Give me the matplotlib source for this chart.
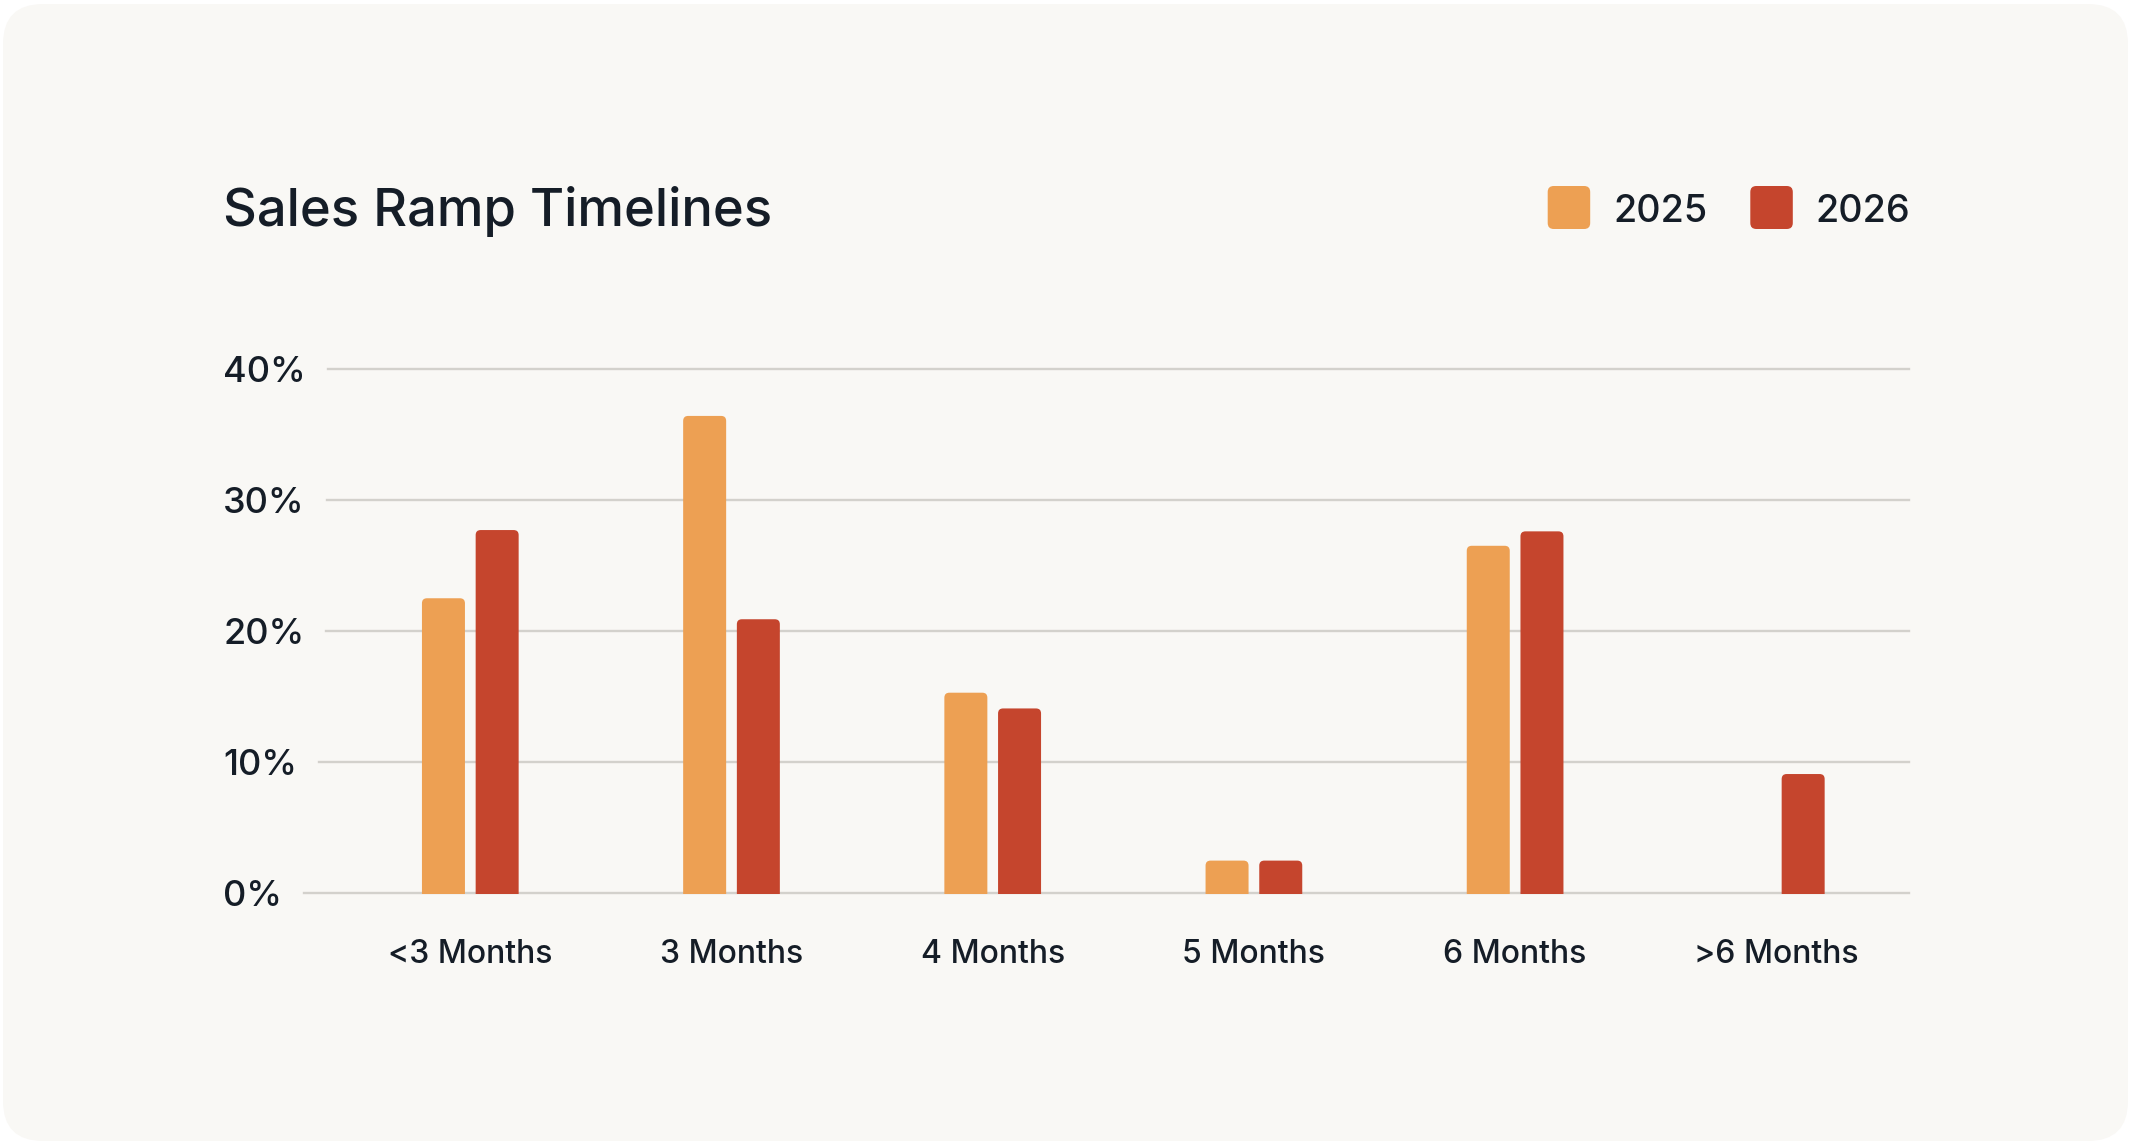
import matplotlib
matplotlib.use('Agg')
import matplotlib.pyplot as plt
from matplotlib.patches import FancyBboxPatch
import numpy as np

categories = ['<3 Months', '3 Months', '4 Months', '5 Months', '6 Months', '>6 Months']
series_names = ['2025', '2026']
values_2025 = [22.5, 36.4, 15.3, 2.5, 26.5, 0.0]
values_2026 = [27.7, 20.9, 14.1, 2.5, 27.6, 9.1]
yticks = [0, 10, 20, 30, 40]
ytick_labels = ['0%', '10%', '20%', '30%', '40%']
title = 'Sales Ramp Timelines'

COLORS = ['#EDA053', '#C5452D']
TEXT = '#151D27'
GRID = '#D3D1CC'
CARD = '#F9F8F5'

plt.rcParams['font.family'] = ['Inter', 'DejaVu Sans']

W, H = 21.31, 11.45
DPI = 100
fig = plt.figure(figsize=(W, H), dpi=DPI, facecolor='white')

# background card with rounded corners
card = FancyBboxPatch((0.03, 0.04), W - 0.06, H - 0.08,
                      boxstyle='round,pad=0,rounding_size=0.4',
                      transform=fig.dpi_scale_trans, fc=CARD, ec='none', zorder=-5)
fig.patches.append(card)

# axes placement (pixels from the left / top of the figure)
ylim = (-0.08, 40.4)
xlim = (-0.652, 5.508)
ax_left, ax_right = 300, 1909
y0_px, y40_px = 893.4, 368.7
px_per_y = (y0_px - y40_px) / 40
ax_bottom = y0_px - ylim[0] * px_per_y
ax_top = y40_px - (ylim[1] - 40) * px_per_y
ax = fig.add_axes([ax_left / (W * DPI), 1 - ax_bottom / (H * DPI),
                   (ax_right - ax_left) / (W * DPI), (ax_bottom - ax_top) / (H * DPI)])
ax.set_facecolor('none')
ax.set_xlim(*xlim)
ax.set_ylim(*ylim)
for s in ax.spines.values():
    s.set_visible(False)

px_per_x = (ax_right - ax_left) / (xlim[1] - xlim[0])

x = np.arange(len(categories))
bar_w = 0.1646
offset = 0.1028


def rounded_bar(xc, h, color, r_px=5):
    # x and y data units differ a lot, so squash the rounding with mutation_aspect;
    # the bar starts below zero so only the top corners show after clipping
    rx = r_px / px_per_x
    ry = r_px / px_per_y
    p = FancyBboxPatch((xc - bar_w / 2, -ry - 1), bar_w, h + ry + 1,
                       boxstyle=f'round,pad=0,rounding_size={rx}',
                       mutation_aspect=ry / rx, fc=color, ec='none', zorder=3)
    ax.add_patch(p)


for i, (v1, v2) in enumerate(zip(values_2025, values_2026)):
    if v1 > 0:
        rounded_bar(x[i] - offset, v1, COLORS[0])
    if v2 > 0:
        rounded_bar(x[i] + offset, v2, COLORS[1])

ax.set_xticks(x, categories)
ax.tick_params(axis='x', length=0, pad=32, labelsize=23, labelcolor=TEXT)
ax.set_yticks(yticks, ytick_labels)
ax.tick_params(axis='y', length=0, pad=(ax_left - 223) * 72 / DPI, labelsize=26, labelcolor=TEXT)
for lbl in ax.get_xticklabels() + ax.get_yticklabels():
    lbl.set_fontweight('medium')
for lbl in ax.get_yticklabels():
    lbl.set_horizontalalignment('left')

# gridlines start a little after each tick label
fig.canvas.draw()
renderer = fig.canvas.get_renderer()
ax_bb = ax.get_window_extent(renderer)
for yv, lbl in zip(yticks, ax.get_yticklabels()):
    right = lbl.get_window_extent(renderer).x1
    frac = (right + 22 - ax_bb.x0) / ax_bb.width
    ax.axhline(yv, xmin=frac, xmax=1, color=GRID, lw=1.7, zorder=1, clip_on=False)

fig.text(223 / (W * DPI), 1 - 225.6 / (H * DPI), title, fontsize=37.8,
         fontweight='medium', color=TEXT, va='baseline', ha='left')

# legend
sq_x = [15.477, 17.503]
txt_x = [16.133, 18.157]
for name, color, sx, tx in zip(series_names, COLORS, sq_x, txt_x):
    sq = FancyBboxPatch((sx, H - 2.29), 0.425, 0.43,
                        boxstyle='round,pad=0,rounding_size=0.06',
                        transform=fig.dpi_scale_trans, fc=color, ec='none', zorder=2)
    fig.patches.append(sq)
    fig.text(tx, H - 2.217, name, transform=fig.dpi_scale_trans, fontsize=27.2,
             fontweight='medium', color=TEXT, va='baseline', ha='left')

fig.savefig('out.png', dpi=DPI, facecolor='white')
